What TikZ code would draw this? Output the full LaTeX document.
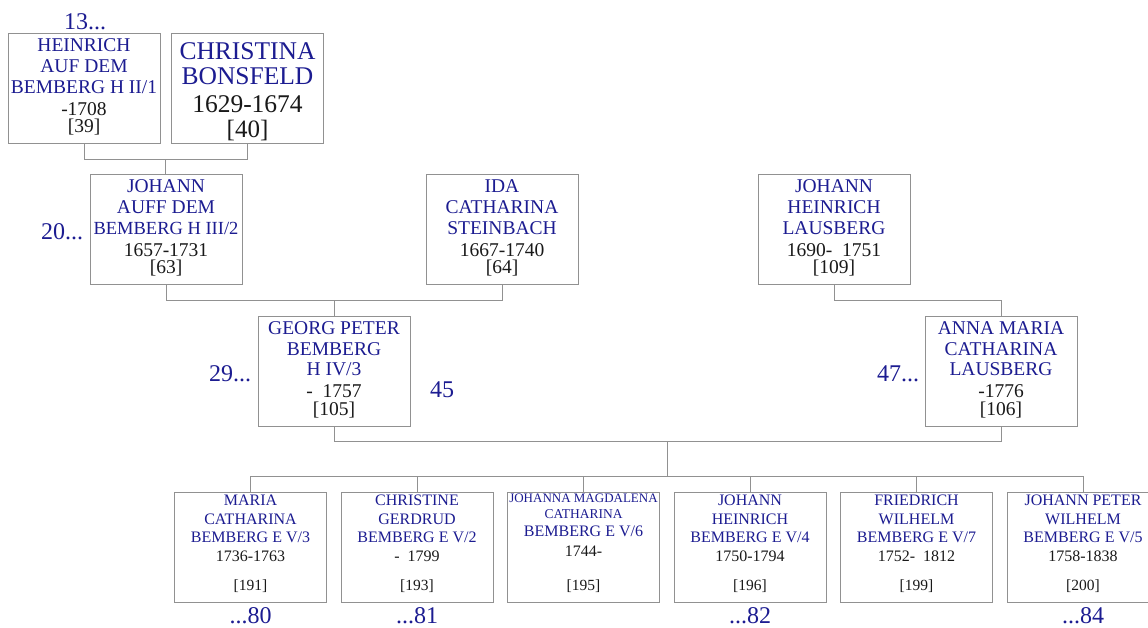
\documentclass[tikz,border=0pt]{standalone}
\usepackage{fontspec}
\setmainfont{Liberation Serif}
\usetikzlibrary{calc}
\definecolor{nameblue}{RGB}{28,28,145}
\definecolor{linegray}{RGB}{145,145,145}
\definecolor{datecol}{RGB}{25,25,25}
\tikzset{
  person/.style={draw=linegray, line width=1pt, minimum width=152pt, minimum height=110pt, inner sep=0pt, fill=white},
  conn/.style={draw=linegray, line width=1pt},
  nm/.style={anchor=base, inner sep=0pt, text=nameblue, font=\fontsize{19.5}{20}\selectfont},
  dt/.style={anchor=base, inner sep=0pt, text=datecol, font=\fontsize{19.5}{20}\selectfont},
  knm/.style={anchor=base, inner sep=0pt, text=nameblue, font=\fontsize{16}{17}\selectfont},
  kdt/.style={anchor=base, inner sep=0pt, text=datecol, font=\fontsize{16}{17}\selectfont},
  gen/.style={anchor=base, inner sep=0pt, text=nameblue, font=\fontsize{24}{25}\selectfont},
}
\newcommand\stdlines[6]{%
  \node[nm] (#1-1) at ($(#1.north)+(0,18.5)$) {#2};
  \node[nm] (#1-2) at ($(#1.north)+(0,39.5)$) {#3};
  \node[nm] (#1-3) at ($(#1.north)+(0,60)$) {#4};
  \node[dt] (#1-4) at ($(#1.north)+(0,82)$) {#5};
  \node[dt] (#1-5) at ($(#1.north)+(0,99.5)$) {#6};
}
\newcommand\kidlines[6]{%
  \node[knm] (#1-1) at ($(#1.north)+(0,13)$) {#2};
  \node[knm] (#1-2) at ($(#1.north)+(0,32.5)$) {#3};
  \node[knm] (#1-3) at ($(#1.north)+(0,50)$) {#4};
  \node[kdt] (#1-4) at ($(#1.north)+(0,69.5)$) {#5};
  \node[kdt,font=\fontsize{15.5}{16}\selectfont] (#1-5) at ($(#1.north)+(0,98)$) {#6};
}
\begin{document}
\begin{tikzpicture}[x=1pt,y=-1pt]
\useasboundingbox (0,0) rectangle (1148,628);

% boxes
\node[person] (A) at (84,89) {};
\node[person] (B) at (247.5,89) {};
\node[person] (C) at (166,230) {};
\node[person] (D) at (502,230) {};
\node[person] (E) at (334,371) {};
\node[person] (F) at (834,230) {};
\node[person] (G) at (1001,371) {};
\foreach \i in {1,...,6} {
  \node[person] (k\i) at ({250.5+166.5*(\i-1)},547.5) {};
}

% connectors
\coordinate (ab) at ($(A.south)!0.5!(B.south)+(0,15)$);
\draw[conn] (A.south) |- (ab) -| (B.south);
\draw[conn] (ab) -- (ab |- C.north);
\coordinate (cd) at ($(C.south)!0.5!(D.south)+(0,15)$);
\draw[conn] (C.south) |- (cd) -| (D.south);
\draw[conn] (cd) -- (cd |- E.north);
\draw[conn] (F.south) -- ++(0,15) -| (G.north);
\coordinate (eg) at ($(E.south)!0.5!(G.south)+(0,15)$);
\draw[conn] (E.south) |- (eg) -| (G.south);
\coordinate (kb) at ($(eg |- k1.north)+(0,-15.5)$);
\draw[conn] (eg) -- (kb);
\draw[conn] (k1.north) -- ++(0,-15.5) -| (k6.north);
\foreach \i in {2,...,5} { \draw[conn] (k\i.north) -- ++(0,-15.5); }

% box texts
\stdlines{A}{HEINRICH}{AUF DEM}{BEMBERG H II/1}{-1708}{[39]}
\node[nm,font=\fontsize{25.5}{26}\selectfont] (B-1) at ($(B.north)+(0,26)$) {CHRISTINA};
\node[nm,font=\fontsize{25.5}{26}\selectfont] (B-2) at ($(B.north)+(0,51)$) {BONSFELD};
\node[dt,font=\fontsize{25.5}{26}\selectfont] (B-3) at ($(B.north)+(0,78.7)$) {1629-1674};
\node[dt,font=\fontsize{25}{26}\selectfont] (B-4) at ($(B.north)+(0,104)$) {[40]};
\stdlines{C}{JOHANN}{AUFF DEM}{{\fontsize{18.5}{19}\selectfont BEMBERG H III/2}}{1657-1731}{[63]}
\stdlines{D}{IDA}{CATHARINA}{STEINBACH}{1667-1740}{[64]}
\stdlines{E}{GEORG PETER}{BEMBERG}{H IV/3}{-\ \ 1757}{[105]}
\stdlines{F}{JOHANN}{HEINRICH}{LAUSBERG}{1690-\ \ 1751}{[109]}
\stdlines{G}{ANNA MARIA}{CATHARINA}{LAUSBERG}{-1776}{[106]}

\kidlines{k1}{MARIA}{CATHARINA}{BEMBERG E V/3}{1736-1763}{[191]}
\kidlines{k2}{CHRISTINE}{GERDRUD}{BEMBERG E V/2}{-\ \ 1799}{[193]}
\node[knm,font=\fontsize{13}{14}\selectfont] (k3-1) at ($(k3.north)+(0,10.5)$) {JOHANNA MAGDALENA};
\node[knm,font=\fontsize{13.5}{14}\selectfont] (k3-2) at ($(k3.north)+(0,26.5)$) {CATHARINA};
\node[knm] (k3-3) at ($(k3.north)+(0,44.5)$) {BEMBERG E V/6};
\node[kdt] (k3-4) at ($(k3.north)+(0,64)$) {1744-};
\node[kdt,font=\fontsize{15.5}{16}\selectfont] (k3-5) at ($(k3.north)+(0,98)$) {[195]};
\kidlines{k4}{JOHANN}{HEINRICH}{BEMBERG E V/4}{1750-1794}{[196]}
\kidlines{k5}{FRIEDRICH}{WILHELM}{BEMBERG E V/7}{1752-\ \ 1812}{[199]}
\kidlines{k6}{JOHANN PETER}{WILHELM}{BEMBERG E V/5}{1758-1838}{[200]}

% generation labels
\node[gen] (g13) at (85,29.3) {13...};
\node[gen] (g20) at (62,240) {20...};
\node[gen] (g29) at (230,381) {29...};
\node[gen] (g45) at (442,397) {45};
\node[gen] (g47) at (898,381) {47...};
\node[gen] (g80) at (250.5,623.5) {...80};
\node[gen] (g81) at (417,623.5) {...81};
\node[gen] (g82) at (750,623.5) {...82};
\node[gen] (g84) at (1083,623.5) {...84};
\end{tikzpicture}
\end{document}
